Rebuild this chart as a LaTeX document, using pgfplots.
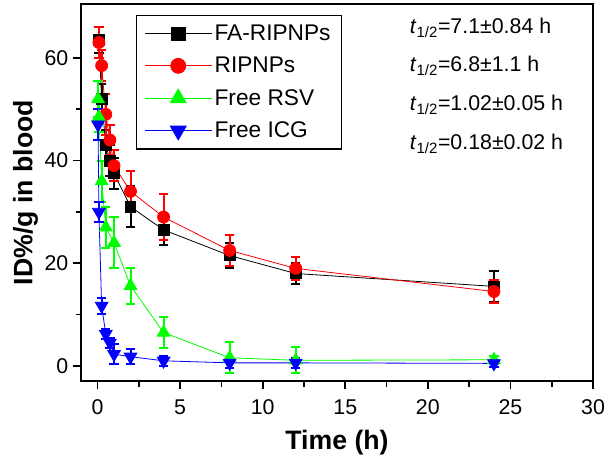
\documentclass[border=0pt]{standalone}
\usepackage{pgfplots}
\pgfplotsset{compat=1.18}
\usepackage{fontspec}
\setmainfont{Liberation Sans}

\definecolor{cblk}{RGB}{0,0,0}
\definecolor{cred}{RGB}{255,0,0}
\definecolor{cgrn}{RGB}{0,255,0}
\definecolor{cblu}{RGB}{0,0,255}

% time (h), ID%/g, sd
\pgfplotstableread{
t     v     e
0.083 63.5  2.5
0.25  52.0  3.0
0.5   43.0  3.0
0.75  40.0  3.0
1     37.5  3.0
2     31.0  4.0
4     26.5  3.0
8     21.5  2.5
12    18.0  2.0
24    15.5  3.0
}\fa
\pgfplotstableread{
t     v     e
0.083 63.0  3.0
0.25  58.5  3.0
0.5   49.0  4.0
0.75  44.0  3.0
1     39.0  3.0
2     34.0  4.0
4     29.0  4.5
8     22.5  3.0
12    19.0  2.3
24    14.5  2.3
}\rip
\pgfplotstableread{
t     v     e
0.033 52.0  3.5
0.083 48.5  3.0
0.25  36.0  4.0
0.5   27.0  4.0
1     24.0  5.0
2     15.6  3.5
4     6.5   3.0
8     1.6   3.0
12    1.1   2.5
24    1.2   0.8
}\rsv
\pgfplotstableread{
t     v     e
0.033 47.0  3.0
0.083 30.0  2.0
0.25  11.7  1.5
0.5   6.2   1.0
0.75  4.5   1.0
1     2.3   2.0
2     1.8   1.5
4     1.0   1.0
8     0.6   1.0
12    0.6   1.0
24    0.5   0.7
}\icg

\begin{document}
\begin{tikzpicture}
\begin{axis}[
  name=ax,
  scale only axis,
  width=384pt, height=283pt,
  xmin=-1, xmax=30, ymin=-3, ymax=70.5,
  xtick={0,5,...,30}, ytick={0,20,40,60},
  minor xtick={2.5,7.5,...,27.5}, minor ytick={10,30,50},
  tick align=outside,
  xtick pos=bottom, ytick pos=left,
  major tick length=6pt, minor tick length=4pt,
  every tick/.style={line width=1.3pt, black},
  axis line style={line width=1.5pt},
  tick label style={font=\fontsize{16}{19}\selectfont},
  xticklabel style={yshift=-4pt},
  /pgf/number format/assume math mode=true,
  xlabel={\bfseries Time (h)},
  ylabel={\bfseries ID\%/g in blood},
  label style={font=\fontsize{20}{24}\selectfont},
  xlabel style={yshift=-5pt},
  ylabel style={yshift=-2pt},
  legend style={at={(axis cs:2.32,68.4)}, anchor=north west,
    draw=black, line width=1pt, font=\fontsize{17}{20}\selectfont,
    inner xsep=6pt, inner ysep=5pt, row sep=7pt},
  legend cell align=left,
  legend image code/.code={%
    \draw[mark repeat=2,mark phase=2,every mark/.append style={scale=1.25}]
      plot coordinates {(0pt,0pt)(25pt,0pt)(50pt,0pt)};},
  clip=false,
]
\addplot[cblk, line width=0.6pt, mark=square*, mark size=4pt,
  mark options={solid},
  error bars/.cd, y dir=both, y explicit,
  error bar style={line width=1.5pt, cblk},
  error mark options={rotate=90, mark size=3.5pt, line width=1.5pt, cblk}]
  table[x=t, y=v, y error=e] {\fa};
\addlegendentry{FA-RIPNPs}
\addplot[cred, line width=0.6pt, mark=*, mark size=4.5pt,
  error bars/.cd, y dir=both, y explicit,
  error bar style={line width=1.5pt, cred},
  error mark options={rotate=90, mark size=3.5pt, line width=1.5pt, cred}]
  table[x=t, y=v, y error=e] {\rip};
\addlegendentry{RIPNPs}
\addplot[cgrn, line width=0.6pt, mark=triangle*, mark size=5.5pt,
  error bars/.cd, y dir=both, y explicit,
  error bar style={line width=1.5pt, cgrn},
  error mark options={rotate=90, mark size=3.5pt, line width=1.5pt, cgrn}]
  table[x=t, y=v, y error=e] {\rsv};
\addlegendentry{Free RSV}
\addplot[cblu, line width=0.6pt, mark=triangle*, mark size=5.5pt,
  mark options={rotate=180},
  error bars/.cd, y dir=both, y explicit,
  error bar style={line width=1.5pt, cblu},
  error mark options={rotate=90, mark size=3.5pt, line width=1.5pt, cblu}]
  table[x=t, y=v, y error=e] {\icg};
\addlegendentry{Free ICG}

\begin{scope}[every node/.style={anchor=base west, font=\fontsize{16}{19}\selectfont, inner sep=0pt}]
\node at (axis cs:18.9,64.7) {\textit{t}\textsubscript{1/2}=7.1±0.84 h};
\node at (axis cs:18.9,57.3) {\textit{t}\textsubscript{1/2}=6.8±1.1 h};
\node at (axis cs:18.9,49.7) {\textit{t}\textsubscript{1/2}=1.02±0.05 h};
\node at (axis cs:18.9,42.1) {\textit{t}\textsubscript{1/2}=0.18±0.02 h};
\end{scope}
\end{axis}
\pgfresetboundingbox
\path[use as bounding box] ([xshift=-60.75pt,yshift=-56.25pt]ax.south west)
  rectangle ([xshift=9.75pt,yshift=3pt]ax.north east);
\end{tikzpicture}
\end{document}
